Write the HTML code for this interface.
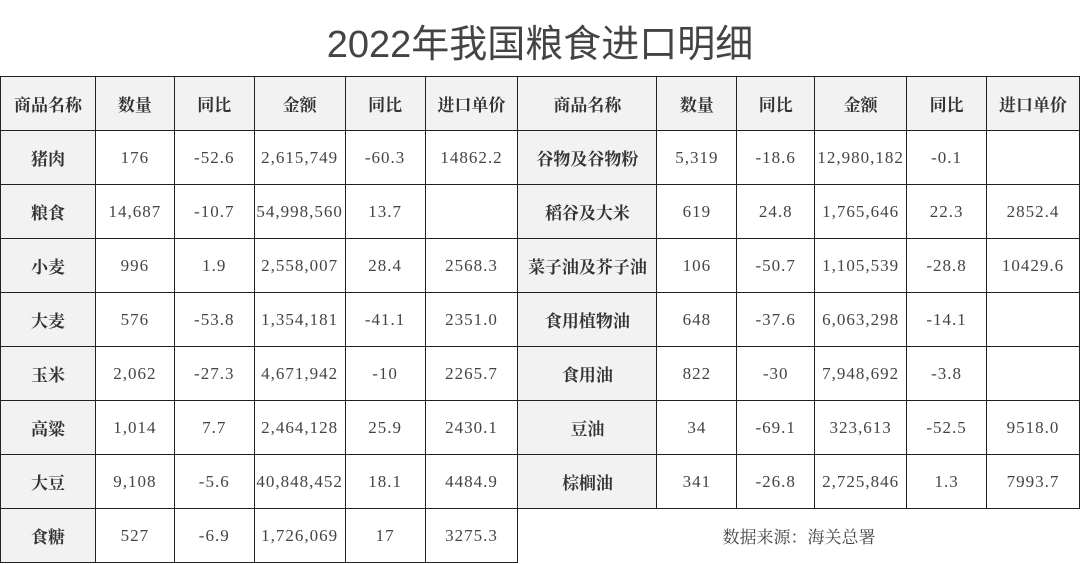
<!DOCTYPE html>
<html><head><meta charset="utf-8"><style>
body{margin:0;width:1080px;height:564px;background:#fff;overflow:hidden;position:relative;font-family:"Liberation Serif","Noto Serif CJK SC",serif;}
.t{position:absolute;top:13px;left:0;width:1080px;text-align:center;font-family:"Liberation Sans","Noto Sans CJK SC",sans-serif;font-size:38px;color:#444;}
table{position:absolute;left:0;top:76px;border-collapse:collapse;table-layout:fixed;}
td{border:1.5px solid #222;height:53px;padding:0;text-align:center;font-size:17px;letter-spacing:1px;color:#444;white-space:nowrap;overflow:hidden;}
.h td,.n{background:#f2f2f2;font-weight:bold;color:#333;font-family:"Noto Serif CJK SC",serif;font-size:17px;letter-spacing:0;}
.s{font-family:"Noto Serif CJK SC",serif;font-size:17px;letter-spacing:0;}
</style></head><body>
<div class="t">2022年我国粮食进口明细</div>
<table>
<colgroup><col style="width:95px"><col style="width:79px"><col style="width:80px"><col style="width:91px"><col style="width:80px"><col style="width:93px"><col style="width:139px"><col style="width:80px"><col style="width:78px"><col style="width:92px"><col style="width:80px"><col style="width:93px"></colgroup>
<tr class="h"><td>商品名称</td><td>数量</td><td>同比</td><td>金额</td><td>同比</td><td>进口单价</td><td>商品名称</td><td>数量</td><td>同比</td><td>金额</td><td>同比</td><td>进口单价</td></tr>
<tr><td class="n">猪肉</td><td>176</td><td>-52.6</td><td>2,615,749</td><td>-60.3</td><td>14862.2</td><td class="n">谷物及谷物粉</td><td>5,319</td><td>-18.6</td><td>12,980,182</td><td>-0.1</td><td></td></tr>
<tr><td class="n">粮食</td><td>14,687</td><td>-10.7</td><td>54,998,560</td><td>13.7</td><td></td><td class="n">稻谷及大米</td><td>619</td><td>24.8</td><td>1,765,646</td><td>22.3</td><td>2852.4</td></tr>
<tr><td class="n">小麦</td><td>996</td><td>1.9</td><td>2,558,007</td><td>28.4</td><td>2568.3</td><td class="n">菜子油及芥子油</td><td>106</td><td>-50.7</td><td>1,105,539</td><td>-28.8</td><td>10429.6</td></tr>
<tr><td class="n">大麦</td><td>576</td><td>-53.8</td><td>1,354,181</td><td>-41.1</td><td>2351.0</td><td class="n">食用植物油</td><td>648</td><td>-37.6</td><td>6,063,298</td><td>-14.1</td><td></td></tr>
<tr><td class="n">玉米</td><td>2,062</td><td>-27.3</td><td>4,671,942</td><td>-10</td><td>2265.7</td><td class="n">食用油</td><td>822</td><td>-30</td><td>7,948,692</td><td>-3.8</td><td></td></tr>
<tr><td class="n">高粱</td><td>1,014</td><td>7.7</td><td>2,464,128</td><td>25.9</td><td>2430.1</td><td class="n">豆油</td><td>34</td><td>-69.1</td><td>323,613</td><td>-52.5</td><td>9518.0</td></tr>
<tr><td class="n">大豆</td><td>9,108</td><td>-5.6</td><td>40,848,452</td><td>18.1</td><td>4484.9</td><td class="n">棕榈油</td><td>341</td><td>-26.8</td><td>2,725,846</td><td>1.3</td><td>7993.7</td></tr>
<tr><td class="n">食糖</td><td>527</td><td>-6.9</td><td>1,726,069</td><td>17</td><td>3275.3</td><td colspan="6" class="s" style="border-right:none;border-bottom:none">数据来源：海关总署</td></tr>
</table>
</body></html>
